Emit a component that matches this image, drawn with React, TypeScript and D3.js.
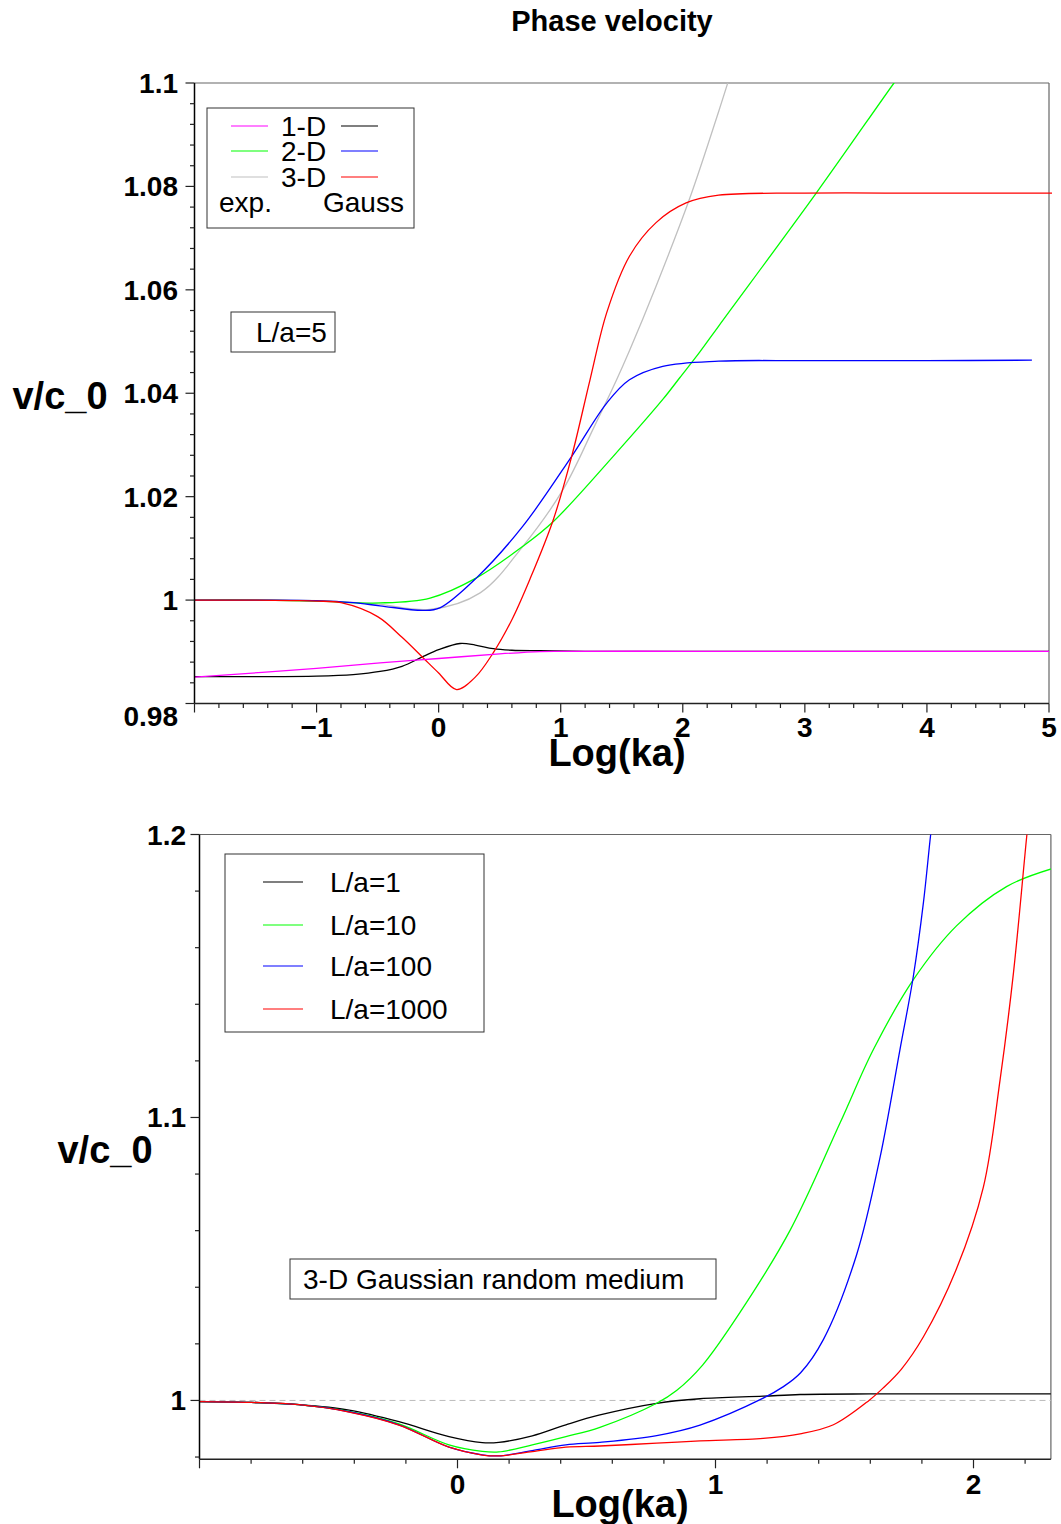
import React from 'react';
import * as d3 from 'd3';

// ---- top panel data (L/a=5), x = log10(ka), y = v/c_0 ----
const exp1DX = [-2, -1, -0.48, 0, 0.5, 0.83, 1.0, 2, 3, 4, 5];
const exp1DV = [0.9851, 0.9868, 0.98785, 0.9887, 0.9896, 0.99005, 0.9901, 0.9901, 0.9901, 0.9901, 0.9901];

const gauss1DX = [-2, -1.5, -1, -0.7, -0.48, -0.3, -0.126, 0, 0.175, 0.3, 0.447, 0.6, 0.83, 1.2, 2, 3, 4, 5];
const gauss1DV = [0.9852, 0.9852, 0.9853, 0.9856, 0.9862, 0.9872, 0.9891, 0.9904, 0.9916, 0.9913, 0.9906, 0.9903, 0.9902, 0.9901, 0.9901, 0.9901, 0.9901, 0.9901];

const exp2DX = [-2, -1.5, -1, -0.48, -0.07, 0.31, 0.69, 0.94, 1.43, 1.836, 1.975, 2.14, 2.294, 3.096, 3.73, 3.9];
const exp2DV = [1.0, 1.0, 0.9998, 0.99945, 1.0004, 1.0043, 1.0104, 1.0152, 1.0278, 1.0388, 1.043, 1.048, 1.053, 1.0788, 1.1, 1.1055];

const gauss2DX = [-2, -1.5, -1, -0.7, -0.48, -0.126, 0.01, 0.31, 0.69, 1.09, 1.377, 1.563, 1.836, 2.294, 3, 4, 4.86];
const gauss2DV = [1.0, 1.0, 0.9999, 0.9995, 0.9989, 0.998, 0.9985, 1.0043, 1.0143, 1.0278, 1.0381, 1.0426, 1.0452, 1.0462, 1.0463, 1.0463, 1.0464];

const exp3DX = [-2, -1, -0.5, -0.07, 0.34, 0.69, 1.02, 1.27, 1.456, 1.563, 1.781, 2.054, 2.294, 2.5];
const exp3DV = [1.0, 0.9999, 0.9992, 0.9982, 1.0014, 1.0104, 1.0214, 1.0333, 1.0425, 1.0482, 1.0607, 1.0775, 1.0945, 1.11];

const gauss3DX = [-2, -1.5, -1.2, -1, -0.8, -0.5, -0.3, -0.126, 0, 0.147, 0.3, 0.447, 0.6, 0.747, 0.94, 1.09, 1.24, 1.377, 1.563, 1.781, 2.027, 2.294, 3, 4, 5.05];
const gauss3DV = [1.0, 1.0, 0.9999, 0.9998, 0.9995, 0.9968, 0.9928, 0.9888, 0.9859, 0.9827, 0.9851, 0.9898, 0.9962, 1.004, 1.0156, 1.0278, 1.0426, 1.0556, 1.0665, 1.073, 1.0768, 1.0783, 1.0787, 1.0787, 1.0787];

// ---- bottom panel data (3-D Gaussian), x = log10(ka) ----
const la1X = [-1, -0.8, -0.614, -0.42, -0.227, -0.033, 0.096, 0.16, 0.29, 0.42, 0.548, 0.772, 0.94, 1.185, 1.328, 1.6, 2.1, 2.3];
const la1V = [0.9996, 0.9993, 0.9985, 0.9966, 0.9925, 0.9872, 0.9851, 0.9852, 0.9875, 0.9914, 0.9948, 0.999, 1.0006, 1.0015, 1.0021, 1.0023, 1.0023, 1.0023];

const la10X = [-1, -0.8, -0.614, -0.42, -0.227, -0.033, 0.096, 0.16, 0.29, 0.42, 0.552, 0.772, 0.849, 0.95, 1.095, 1.289, 1.483, 1.612, 1.767, 1.934, 2.128, 2.304];
const la10V = [0.9996, 0.9993, 0.9985, 0.9961, 0.9917, 0.9843, 0.982, 0.9818, 0.9843, 0.9872, 0.9905, 0.999, 1.0035, 1.0125, 1.0311, 1.0601, 1.0981, 1.124, 1.1487, 1.1677, 1.1816, 1.1879];

const la100X = [-1, -0.8, -0.614, -0.42, -0.227, -0.033, 0.096, 0.16, 0.29, 0.42, 0.552, 0.772, 0.94, 1.185, 1.26, 1.33, 1.418, 1.547, 1.638, 1.715, 1.767, 1.806, 1.834, 1.86];
const la100V = [0.9996, 0.9993, 0.9985, 0.996, 0.9914, 0.9835, 0.9808, 0.9804, 0.9823, 0.9843, 0.9852, 0.9876, 0.9913, 1.0008, 1.0047, 1.0098, 1.0215, 1.0515, 1.086, 1.124, 1.15, 1.176, 1.2, 1.22];

const la1000X = [-1, -0.8, -0.614, -0.42, -0.227, -0.033, 0.096, 0.16, 0.29, 0.42, 0.552, 0.772, 0.94, 1.185, 1.328, 1.457, 1.595, 1.651, 1.72, 1.806, 1.934, 2.038, 2.103, 2.155, 2.207, 2.23];
const la1000V = [0.9996, 0.9993, 0.9985, 0.9959, 0.9913, 0.9835, 0.9807, 0.9804, 0.9819, 0.9835, 0.9839, 0.9849, 0.9857, 0.9866, 0.9882, 0.9914, 1.0, 1.0045, 1.011, 1.0225, 1.0465, 1.0753, 1.1133, 1.1512, 1.2, 1.22];

// ticks / labels
const topYTicks = [0.98, 1, 1.02, 1.04, 1.06, 1.08, 1.1];
const topYLabels = ['0.98', '1', '1.02', '1.04', '1.06', '1.08', '1.1'];
const topXTicks = [-1, 0, 1, 2, 3, 4, 5];
const topXLabels = ['\u22121', '0', '1', '2', '3', '4', '5'];
const botYTicks = [1, 1.1, 1.2];
const botYLabels = ['1', '1.1', '1.2'];
const botXTicks = [0, 1, 2];
const botXLabels = ['0', '1', '2'];

const topLegendLabels = ['1-D', '2-D', '3-D'];
const botLegendLabels = ['L/a=1', 'L/a=10', 'L/a=100', 'L/a=1000'];

const FONT = "'Liberation Sans', Arial, Helvetica, sans-serif";

const zip = (xs: number[], vs: number[]) => xs.map((x, i) => [x, vs[i]] as [number, number]);

export default function App() {
  // scales
  const xTop = d3.scaleLinear().domain([-2, 5]).range([194.5, 1049]);
  const yTop = d3.scaleLinear().domain([0.98, 1.1]).range([703.5, 83]);
  const xBot = d3.scaleLinear().domain([-1, 2.3]).range([199.5, 1050.9]);
  const yBot = d3.scaleLinear().domain([0.9792, 1.2]).range([1459.3, 834.5]);

  const curve = d3.curveCatmullRom.alpha(0.5);
  const lineTop = d3.line<[number, number]>().x(d => xTop(d[0])).y(d => yTop(d[1])).curve(curve);
  const lineBot = d3.line<[number, number]>().x(d => xBot(d[0])).y(d => yBot(d[1])).curve(curve);

  const topSeries = [
    { d: zip(exp3DX, exp3DV), c: '#c0c0c0' },
    { d: zip(exp2DX, exp2DV), c: '#00ff00' },
    { d: zip(gauss2DX, gauss2DV), c: '#0000ff' },
    { d: zip(gauss1DX, gauss1DV), c: '#000000' },
    { d: zip(gauss3DX, gauss3DV), c: '#ff0000' },
    { d: zip(exp1DX, exp1DV), c: '#ff00ff' },
  ];
  const botSeries = [
    { d: zip(la1X, la1V), c: '#000000' },
    { d: zip(la10X, la10V), c: '#00ff00' },
    { d: zip(la100X, la100V), c: '#0000ff' },
    { d: zip(la1000X, la1000V), c: '#ff0000' },
  ];
  const topLegendLeft = ['#ff00ff', '#00ff00', '#c0c0c0'];
  const topLegendRight = ['#000000', '#0000ff', '#ff0000'];
  const botLegendColors = ['#000000', '#00ff00', '#0000ff', '#ff0000'];

  // minor/major tick positions
  const topYMinor = d3.range(0, 31).map(i => ({ v: 0.98 + i * 0.004, major: i % 5 === 0 }));
  const topXMinor = d3.range(-10, 26).map(i => ({ v: i * 0.2, major: i % 5 === 0 }));
  const botYMinor = d3.range(0, 12).map(i => ({ v: 0.98 + i * 0.02, major: (i - 1) % 5 === 0 }));
  const botXMinor = d3.range(-5, 12).map(i => ({ v: i * 0.2, major: i % 5 === 0 }));

  const [tx0, tx1] = xTop.range();
  const [ty0, ty1] = yTop.range();
  const [bx0, bx1] = xBot.range();
  const [by0, by1] = yBot.range();

  return (
    <svg width={1061} height={1524} style={{ position: 'absolute', left: 0, top: 0, background: '#fff' }} fontFamily={FONT}>
      <defs>
        <clipPath id="clipTop"><rect x={tx0} y={ty1} width={tx1 - tx0 + 3} height={ty0 - ty1} /></clipPath>
        <clipPath id="clipBot"><rect x={bx0} y={by1} width={bx1 - bx0} height={by0 - by1} /></clipPath>
      </defs>

      <text x={612} y={31} textAnchor="middle" fontWeight="bold" fontSize={29}>Phase velocity</text>

      {/* ---------- top panel ---------- */}
      <line x1={tx0} x2={tx1} y1={ty1} y2={ty1} stroke="#666" strokeWidth={1.2} />
      <line x1={tx1} x2={tx1} y1={ty1} y2={ty0} stroke="#666" strokeWidth={1.2} />
      <g clipPath="url(#clipTop)" fill="none" strokeWidth={1.3}>
        {topSeries.map((s, i) => <path key={i} d={lineTop(s.d) || ''} stroke={s.c} />)}
      </g>
      <line x1={tx0} x2={tx0} y1={ty1} y2={ty0} stroke="#000" strokeWidth={1.5} />
      <line x1={tx0} x2={tx1} y1={ty0} y2={ty0} stroke="#222" strokeWidth={1.5} />
      {topYMinor.map((t, i) => (
        <line key={'ty' + i} x1={tx0 - (t.major ? 9 : 4.5)} x2={tx0} y1={yTop(t.v)} y2={yTop(t.v)} stroke="#222" strokeWidth={1.2} />
      ))}
      {topXMinor.map((t, i) => (
        <line key={'tx' + i} x1={xTop(t.v)} x2={xTop(t.v)} y1={ty0} y2={ty0 + (t.major ? 9 : 4.5)} stroke="#222" strokeWidth={1.2} />
      ))}
      {topYTicks.map((v, i) => (
        <text key={'tyl' + i} x={178} y={yTop(v) + 10 + (i === 0 ? 12 : 0)} textAnchor="end" fontWeight="bold" fontSize={28}>{topYLabels[i]}</text>
      ))}
      {topXTicks.map((v, i) => (
        <text key={'txl' + i} x={xTop(v)} y={737} textAnchor="middle" fontWeight="bold" fontSize={28}>{topXLabels[i]}</text>
      ))}
      <text x={60} y={409} textAnchor="middle" fontWeight="bold" fontSize={38}>v/c_0</text>
      <text x={617} y={766} textAnchor="middle" fontWeight="bold" fontSize={38}>Log(ka)</text>

      {/* top legend */}
      <rect x={207} y={108} width={207} height={120} fill="#fff" stroke="#333" strokeWidth={1} />
      {topLegendLabels.map((lab, i) => {
        const y = [126, 151, 177][i];
        return (
          <g key={'tl' + i}>
            <line x1={231} x2={268} y1={y} y2={y} stroke={topLegendLeft[i]} strokeWidth={1.2} />
            <text x={281} y={y + 10} fontSize={28}>{lab}</text>
            <line x1={341} x2={378} y1={y} y2={y} stroke={topLegendRight[i]} strokeWidth={1.2} />
          </g>
        );
      })}
      <text x={219} y={212} fontSize={28}>exp.</text>
      <text x={323} y={212} fontSize={28}>Gauss</text>

      <rect x={231} y={312} width={104} height={40} fill="#fff" stroke="#333" strokeWidth={1} />
      <text x={256} y={342} fontSize={28}>L/a=5</text>

      {/* ---------- bottom panel ---------- */}
      <line x1={bx0} x2={bx1} y1={by1} y2={by1} stroke="#666" strokeWidth={1.2} />
      <line x1={bx1} x2={bx1} y1={by1} y2={by0} stroke="#666" strokeWidth={1.2} />
      <line x1={bx0} x2={bx1} y1={yBot(1)} y2={yBot(1)} stroke="#bbb" strokeWidth={1} strokeDasharray="6,4" />
      <g clipPath="url(#clipBot)" fill="none" strokeWidth={1.3}>
        {botSeries.map((s, i) => <path key={i} d={lineBot(s.d) || ''} stroke={s.c} />)}
      </g>
      <line x1={bx0} x2={bx0} y1={by1} y2={by0} stroke="#000" strokeWidth={1.5} />
      <line x1={bx0} x2={bx1} y1={by0} y2={by0} stroke="#222" strokeWidth={1.5} />
      {botYMinor.map((t, i) => (
        <line key={'by' + i} x1={bx0 - (t.major ? 9 : 4.5)} x2={bx0} y1={yBot(t.v)} y2={yBot(t.v)} stroke="#222" strokeWidth={1.2} />
      ))}
      {botXMinor.map((t, i) => (
        <line key={'bx' + i} x1={xBot(t.v)} x2={xBot(t.v)} y1={by0} y2={by0 + (t.major ? 9 : 4.5)} stroke="#222" strokeWidth={1.2} />
      ))}
      {botYTicks.map((v, i) => (
        <text key={'byl' + i} x={186} y={yBot(v) + 10} textAnchor="end" fontWeight="bold" fontSize={28}>{botYLabels[i]}</text>
      ))}
      {botXTicks.map((v, i) => (
        <text key={'bxl' + i} x={xBot(v)} y={1494} textAnchor="middle" fontWeight="bold" fontSize={28}>{botXLabels[i]}</text>
      ))}
      <text x={105} y={1163} textAnchor="middle" fontWeight="bold" fontSize={38}>v/c_0</text>
      <text x={620} y={1517} textAnchor="middle" fontWeight="bold" fontSize={38}>Log(ka)</text>

      {/* bottom legend */}
      <rect x={225} y={854} width={259} height={178} fill="#fff" stroke="#333" strokeWidth={1} />
      {botLegendLabels.map((lab, i) => {
        const y = [882, 925, 966, 1009][i];
        return (
          <g key={'bl' + i}>
            <line x1={263} x2={303} y1={y} y2={y} stroke={botLegendColors[i]} strokeWidth={1.2} />
            <text x={330} y={y + 10} fontSize={28}>{lab}</text>
          </g>
        );
      })}
      <rect x={290} y={1259} width={426} height={40} fill="#fff" stroke="#333" strokeWidth={1} />
      <text x={303} y={1289} fontSize={28}>3-D Gaussian random medium</text>
    </svg>
  );
}
